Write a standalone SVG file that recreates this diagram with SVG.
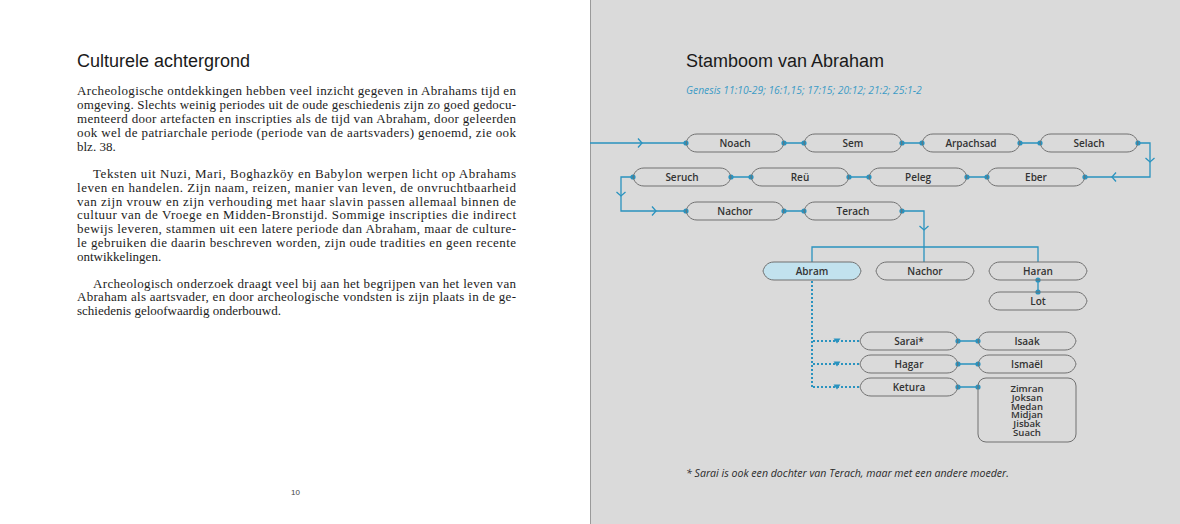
<svg xmlns="http://www.w3.org/2000/svg" xmlns:xlink="http://www.w3.org/1999/xlink" width="1180" height="524" viewBox="0 0 1180 524">
<style>
.body{font-family:"Liberation Serif","Times New Roman",serif;font-size:13px;fill:#1c1c1c}
.h{font-family:"Liberation Sans",Arial,sans-serif;font-size:18px;fill:#1a1a1a}
.ref{font-family:"Open Sans","Noto Sans",sans-serif;font-size:10.3px;font-style:italic;fill:#3a9bc6}
.note{font-family:"Open Sans","Noto Sans",sans-serif;font-size:10.6px;font-style:italic;fill:#2a2a2a}
.lbl{font-family:"Open Sans","Noto Sans",sans-serif;font-size:10px;font-weight:600;fill:#333;text-anchor:middle}
.kid{font-family:"Open Sans","Noto Sans",sans-serif;font-size:9.6px;font-weight:600;fill:#333;text-anchor:middle}
.pg{font-family:"Liberation Sans",Arial,sans-serif;font-size:8px;fill:#444}
.pill{fill:none;stroke:#707070;stroke-width:1}
.sel{fill:#c2e2ee;stroke:#707070;stroke-width:1}
.ln{fill:none;stroke:#2a93bf;stroke-width:1.3}
.dt{fill:none;stroke:#2a93bf;stroke-width:2;stroke-dasharray:2 2}
.dot{fill:#2a93bf}
</style>
<defs>
<path id="pill" d="M11,-9 H87 C94,-9 97,-4 98,0 C97,4 94,9 87,9 H11 C4,9 1,4 0,0 C1,-4 4,-9 11,-9 Z"/>
<path id="chev" d="M-4,-4.5 L0,0 L-4,4.5" fill="none" stroke="#2a93bf" stroke-width="1.3"/>
<path id="tri" d="M-3.5,-2.5 H3.5 L0,2.5 Z" fill="#2a93bf"/>
</defs>

<!-- pages -->
<rect x="0" y="0" width="590" height="524" fill="#ffffff"/>
<rect x="590" y="0" width="590" height="524" fill="#dadada"/>
<line x1="590.5" y1="0" x2="590.5" y2="524" stroke="#9a9a9a" stroke-width="1"/>

<!-- left page -->
<text class="h" x="77" y="67">Culturele achtergrond</text>
<g class="body">
<text x="77" y="95" textLength="439" lengthAdjust="spacing">Archeologische ontdekkingen hebben veel inzicht gegeven in Abrahams tijd en</text>
<text x="77" y="109" textLength="439" lengthAdjust="spacing">omgeving. Slechts weinig periodes uit de oude geschiedenis zijn zo goed gedocu-</text>
<text x="77" y="123" textLength="439" lengthAdjust="spacing">menteerd door artefacten en inscripties als de tijd van Abraham, door geleerden</text>
<text x="77" y="137" textLength="439" lengthAdjust="spacing">ook wel de patriarchale periode (periode van de aartsvaders) genoemd, zie ook</text>
<text x="77" y="151">blz. 38.</text>
<text x="93" y="178" textLength="423" lengthAdjust="spacing">Teksten uit Nuzi, Mari, Boghazköy en Babylon werpen licht op Abrahams</text>
<text x="77" y="191.75" textLength="439" lengthAdjust="spacing">leven en handelen. Zijn naam, reizen, manier van leven, de onvruchtbaarheid</text>
<text x="77" y="205.5" textLength="439" lengthAdjust="spacing">van zijn vrouw en zijn verhouding met haar slavin passen allemaal binnen de</text>
<text x="77" y="219.25" textLength="439" lengthAdjust="spacing">cultuur van de Vroege en Midden-Bronstijd. Sommige inscripties die indirect</text>
<text x="77" y="233" textLength="439" lengthAdjust="spacing">bewijs leveren, stammen uit een latere periode dan Abraham, maar de culture-</text>
<text x="77" y="246.75" textLength="439" lengthAdjust="spacing">le gebruiken die daarin beschreven worden, zijn oude tradities en geen recente</text>
<text x="77" y="260.5">ontwikkelingen.</text>
<text x="93" y="287.5" textLength="423" lengthAdjust="spacing">Archeologisch onderzoek draagt veel bij aan het begrijpen van het leven van</text>
<text x="77" y="301.25" textLength="439" lengthAdjust="spacing">Abraham als aartsvader, en door archeologische vondsten is zijn plaats in de ge-</text>
<text x="77" y="315">schiedenis geloofwaardig onderbouwd.</text>
</g>
<text class="pg" x="291" y="495">10</text>

<!-- right page -->
<text class="h" x="686" y="67">Stamboom van Abraham</text>
<text class="ref" x="686" y="94">Genesis 11:10-29; 16:1,15; 17:15; 20:12; 21:2; 25:1-2</text>
<text class="note" x="686" y="477">* Sarai is ook een dochter van Terach, maar met een andere moeder.</text>

<g id="connectors">
<path class="ln" d="M590,143 H686 M784,143 H804 M902,143 H922 M1020,143 H1040 M1138,143 H1150 V177 H1085"/>
<path class="ln" d="M967,177 H987 M849,177 H869 M731,177 H751 M633,177 H621 V211 H686 M784,211 H804 M902,211 H924 V262 M812,262 V247 H1038 V262"/>
<path class="ln" d="M1038,280 V292 M958,341 H978 M958,364 H978 M958,387 H978"/>
<path class="dt" d="M812,281 V387 M813,341 H860 M813,364 H860 M813,387 H860"/>
<use xlink:href="#chev" transform="translate(642,143)"/>
<use xlink:href="#chev" transform="translate(1150,162) rotate(90)"/>
<use xlink:href="#chev" transform="translate(1112,177) rotate(180)"/>
<use xlink:href="#chev" transform="translate(621,196) rotate(90)"/>
<use xlink:href="#chev" transform="translate(656,211)"/>
<use xlink:href="#chev" transform="translate(924,230) rotate(90)"/>
<use xlink:href="#tri" x="837" y="341"/>
<use xlink:href="#tri" x="837" y="364"/>
<use xlink:href="#tri" x="837" y="387"/>
<g class="dot">
<circle cx="686" cy="143" r="2.6"/><circle cx="784" cy="143" r="2.6"/><circle cx="804" cy="143" r="2.6"/><circle cx="902" cy="143" r="2.6"/><circle cx="922" cy="143" r="2.6"/><circle cx="1020" cy="143" r="2.6"/><circle cx="1040" cy="143" r="2.6"/><circle cx="1138" cy="143" r="2.6"/>
<circle cx="633" cy="177" r="2.6"/><circle cx="731" cy="177" r="2.6"/><circle cx="751" cy="177" r="2.6"/><circle cx="849" cy="177" r="2.6"/><circle cx="869" cy="177" r="2.6"/><circle cx="967" cy="177" r="2.6"/><circle cx="987" cy="177" r="2.6"/><circle cx="1085" cy="177" r="2.6"/>
<circle cx="686" cy="211" r="2.6"/><circle cx="784" cy="211" r="2.6"/><circle cx="804" cy="211" r="2.6"/><circle cx="902" cy="211" r="2.6"/>
<circle cx="1038" cy="280" r="2.6"/><circle cx="1038" cy="292" r="2.6"/>
<circle cx="958" cy="341" r="2.6"/><circle cx="978" cy="341" r="2.6"/><circle cx="958" cy="364" r="2.6"/><circle cx="978" cy="364" r="2.6"/><circle cx="958" cy="387" r="2.6"/><circle cx="978" cy="387" r="2.6"/>
</g>
</g>

<g id="node-noach"><use xlink:href="#pill" class="pill" x="686" y="143"/><text class="lbl" x="735" y="146.5">Noach</text></g>
<g id="node-sem"><use xlink:href="#pill" class="pill" x="804" y="143"/><text class="lbl" x="853" y="146.5">Sem</text></g>
<g id="node-arpachsad"><use xlink:href="#pill" class="pill" x="922" y="143"/><text class="lbl" x="971" y="146.5">Arpachsad</text></g>
<g id="node-selach"><use xlink:href="#pill" class="pill" x="1040" y="143"/><text class="lbl" x="1089" y="146.5">Selach</text></g>
<g id="node-seruch"><use xlink:href="#pill" class="pill" x="633" y="177"/><text class="lbl" x="682" y="180.5">Seruch</text></g>
<g id="node-reu"><use xlink:href="#pill" class="pill" x="751" y="177"/><text class="lbl" x="800" y="180.5">Reü</text></g>
<g id="node-peleg"><use xlink:href="#pill" class="pill" x="869" y="177"/><text class="lbl" x="918" y="180.5">Peleg</text></g>
<g id="node-eber"><use xlink:href="#pill" class="pill" x="987" y="177"/><text class="lbl" x="1036" y="180.5">Eber</text></g>
<g id="node-nachor1"><use xlink:href="#pill" class="pill" x="686" y="211"/><text class="lbl" x="735" y="214.5">Nachor</text></g>
<g id="node-terach"><use xlink:href="#pill" class="pill" x="804" y="211"/><text class="lbl" x="853" y="214.5">Terach</text></g>
<g id="node-abram"><use xlink:href="#pill" class="sel" x="763" y="271"/><text class="lbl" x="812" y="274.5">Abram</text></g>
<g id="node-nachor2"><use xlink:href="#pill" class="pill" x="876" y="271"/><text class="lbl" x="925" y="274.5">Nachor</text></g>
<g id="node-haran"><use xlink:href="#pill" class="pill" x="989" y="271"/><text class="lbl" x="1038" y="274.5">Haran</text></g>
<g id="node-lot"><use xlink:href="#pill" class="pill" x="989" y="301"/><text class="lbl" x="1038" y="304.5">Lot</text></g>
<g id="node-sarai"><use xlink:href="#pill" class="pill" x="860" y="341"/><text class="lbl" x="909" y="344.5">Sarai*</text></g>
<g id="node-isaak"><use xlink:href="#pill" class="pill" x="978" y="341"/><text class="lbl" x="1027" y="344.5">Isaak</text></g>
<g id="node-hagar"><use xlink:href="#pill" class="pill" x="860" y="364"/><text class="lbl" x="909" y="367.5">Hagar</text></g>
<g id="node-ismael"><use xlink:href="#pill" class="pill" x="978" y="364"/><text class="lbl" x="1027" y="367.5">Ismaël</text></g>
<g id="node-ketura"><use xlink:href="#pill" class="pill" x="860" y="387"/><text class="lbl" x="909" y="390.5">Ketura</text></g>
<g id="node-sons-ketura"><rect class="pill" x="978" y="378" width="98" height="64" rx="8"/>
<text class="kid"><tspan x="1027" y="392">Zimran</tspan><tspan x="1027" y="400.8">Joksan</tspan><tspan x="1027" y="409.6">Medan</tspan><tspan x="1027" y="418.4">Midjan</tspan><tspan x="1027" y="427.2">Jisbak</tspan><tspan x="1027" y="436">Suach</tspan></text>
</g>
</svg>
